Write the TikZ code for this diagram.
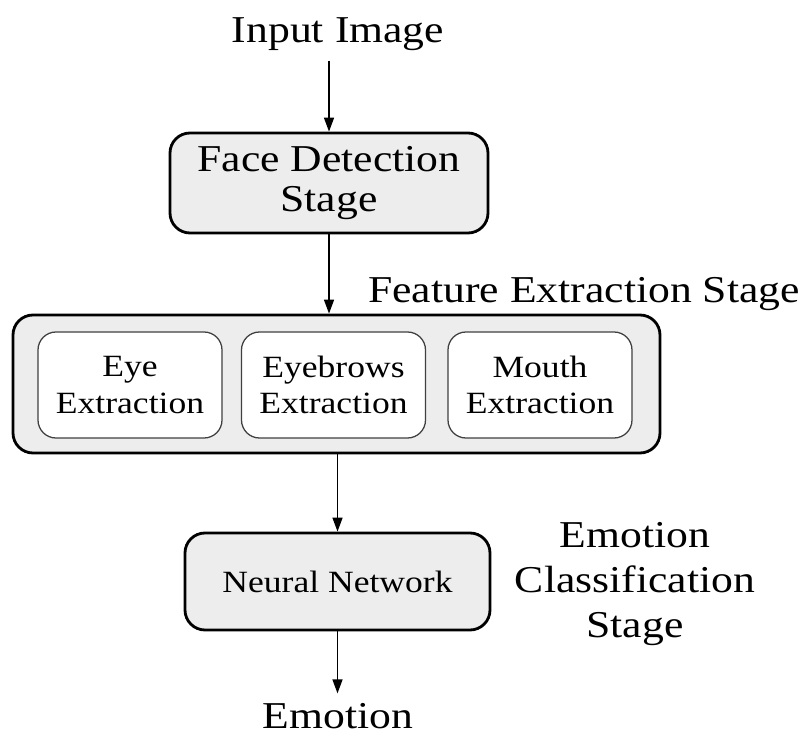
\documentclass[tikz,border=0pt]{standalone}
\usepackage{fontspec}
\setmainfont{Liberation Serif}[FakeStretch=1.15]
\usetikzlibrary{arrows.meta}

\begin{document}
\begin{tikzpicture}[
  stagebox/.style={draw, line width=2pt, rounded corners=0.5cm, fill=black!7, align=center},
  partbox/.style={draw=black!75, line width=0.9pt, rounded corners=0.45cm, fill=white, align=center,
    minimum width=4.6cm, minimum height=2.65cm, font=\fontsize{22}{26}\selectfont},
  bigtext/.style={font=\fontsize{27}{29}\selectfont, align=center, inner sep=0.23cm},
  flowarrow/.style={-{Triangle[length=0.35cm,width=0.25cm]}, line width=1.1pt}
]
  \useasboundingbox (0, 0) rectangle (20.125, 18.5);

  % Input and face detection
  \node[bigtext, anchor=base] (input) at (8.45, 17.425) {Input Image};
  \node[stagebox, font=\fontsize{27}{29}\selectfont, minimum width=7.95cm, minimum height=2.5cm]
    (face) at (8.225, 13.925) {Face Detection\\Stage};

  % Feature extraction stage
  \node[stagebox, minimum width=16.175cm, minimum height=3.45cm] (fes) at (8.4125, 8.9) {};
  \node[bigtext, anchor=base] (feslabel) at (14.6, 10.925) {Feature Extraction Stage};
  \node[partbox] (eye) at (3.25, 8.875) {Eye\\Extraction};
  \node[partbox] (brow) at (8.3375, 8.875) {Eyebrows\\Extraction};
  \node[partbox] (mouth) at (13.5, 8.875) {Mouth\\Extraction};

  % Emotion classification stage
  \node[stagebox, font=\fontsize{22}{26}\selectfont, minimum width=7.625cm, minimum height=2.425cm]
    (nn) at (8.4375, 3.9625) {Neural Network};
  \node[font=\fontsize{27}{32}\selectfont, align=center] (ecslabel) at (15.875, 3.91)
    {Emotion\\Classification\\Stage};
  \node[bigtext, anchor=base, inner ysep=0.05cm] (emotion) at (8.45, 0.3) {Emotion};

  % Arrows
  \draw[flowarrow] (input.south -| face.north) -- (face.north);
  \draw[flowarrow] (face.south) -- (face.south |- fes.north);
  \draw[flowarrow] (nn.north |- fes.south) -- (nn.north);
  \draw[flowarrow, shorten >=0.18cm] (nn.south) -- (nn.south |- emotion.north);
\end{tikzpicture}
\end{document}
